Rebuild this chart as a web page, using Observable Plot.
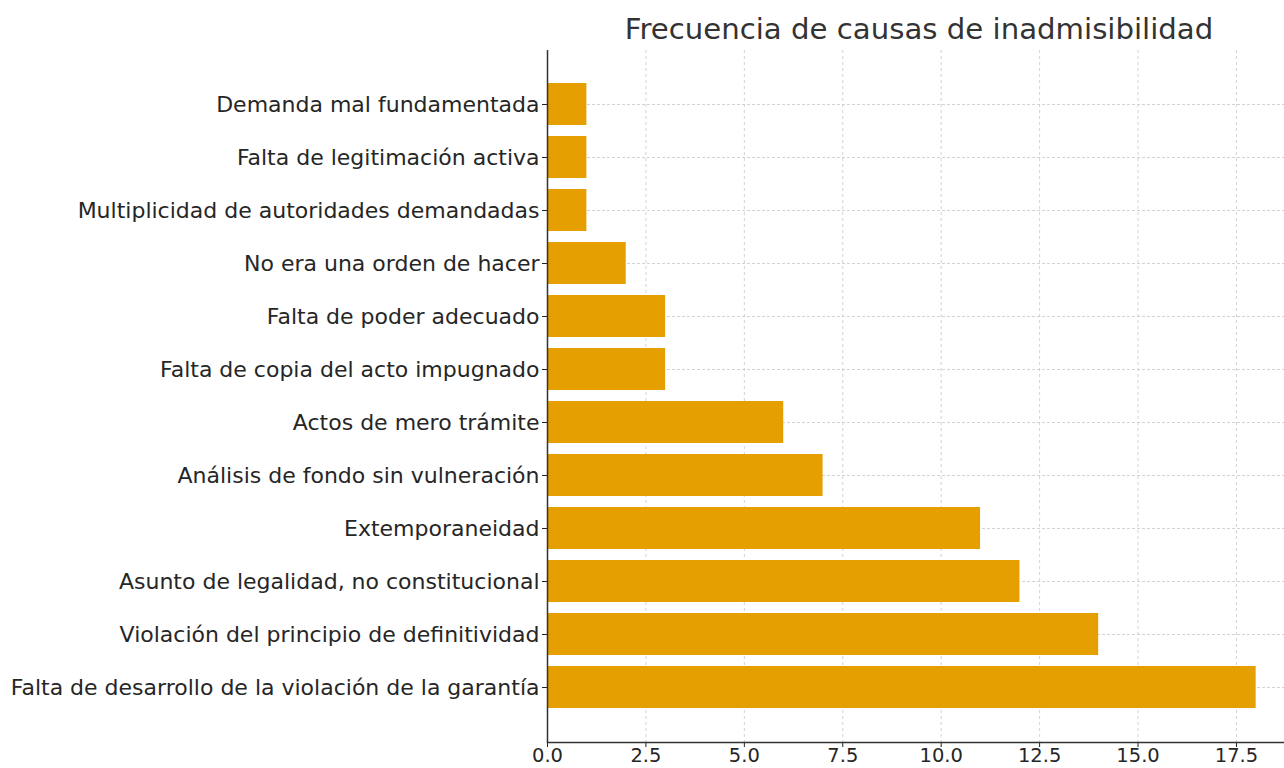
<!DOCTYPE html>
<html>
<head>
<meta charset="utf-8">
<script src="https://cdn.jsdelivr.net/npm/d3@7"></script>
<script src="https://cdn.jsdelivr.net/npm/@observablehq/plot@0.6"></script>
<style>
  html, body { margin: 0; padding: 0; background: #fff; }
  body { width: 1284px; height: 768px; overflow: hidden; font-family: "DejaVu Sans", sans-serif; }
  #title { position: relative; height: 50px; }
  #title span { position: absolute; left: 547px; width: 744px; text-align: center; top: 12px; font-size: 29.2px; line-height: 34px; color: #333; white-space: nowrap; }
</style>
</head>
<body>
<div id="title"><span>Frecuencia de causas de inadmisibilidad</span></div>
<div id="chart"></div>
<script>
const causas = [
  "Demanda mal fundamentada",
  "Falta de legitimación activa",
  "Multiplicidad de autoridades demandadas",
  "No era una orden de hacer",
  "Falta de poder adecuado",
  "Falta de copia del acto impugnado",
  "Actos de mero trámite",
  "Análisis de fondo sin vulneración",
  "Extemporaneidad",
  "Asunto de legalidad, no constitucional",
  "Violación del principio de definitividad",
  "Falta de desarrollo de la violación de la garantía"
];
const frecuencias = [1, 1, 1, 2, 3, 3, 6, 7, 11, 12, 14, 18];
const xTicks = [0, 2.5, 5, 7.5, 10, 12.5, 15, 17.5];

const data = causas.map((c, i) => ({causa: c, n: frecuencias[i]}));

const chart = Plot.plot({
  width: 1284,
  height: 718,
  marginLeft: 547,
  marginRight: 0,
  marginTop: 0,
  marginBottom: 26,
  style: {fontFamily: "DejaVu Sans, sans-serif", fontSize: "18px", color: "#262626", background: "#fff"},
  x: {domain: [0, 18.72], ticks: xTicks, tickFormat: d3.format(".1f")},
  y: {domain: causas, paddingInner: 0.2, paddingOuter: 0.59, align: 0.5},
  marks: [
    Plot.gridX(xTicks, {stroke: "#c8c8c8", strokeOpacity: 1, strokeDasharray: "3,3", strokeWidth: 0.8}),
    Plot.gridY(causas, {stroke: "#c8c8c8", strokeOpacity: 1, strokeDasharray: "3,2", strokeWidth: 0.8}),
    Plot.barX(data, {x: "n", y: "causa", fill: "#E69F00", insetTop: 0, insetBottom: 0}),
    Plot.axisX(xTicks, {tickSize: 5, tickPadding: 1, fontSize: 19.5, label: null, stroke: "#222", tickFormat: d3.format(".1f")}),
    Plot.axisY(causas, {tickSize: 5, tickPadding: 3, fontSize: 22, label: null, stroke: "#222"}),
    Plot.ruleX([0], {stroke: "#333", strokeWidth: 1.5}),
    Plot.frame({anchor: "bottom", stroke: "#333", strokeWidth: 1.5})
  ]
});
document.getElementById("chart").appendChild(chart);
</script>
</body>
</html>
